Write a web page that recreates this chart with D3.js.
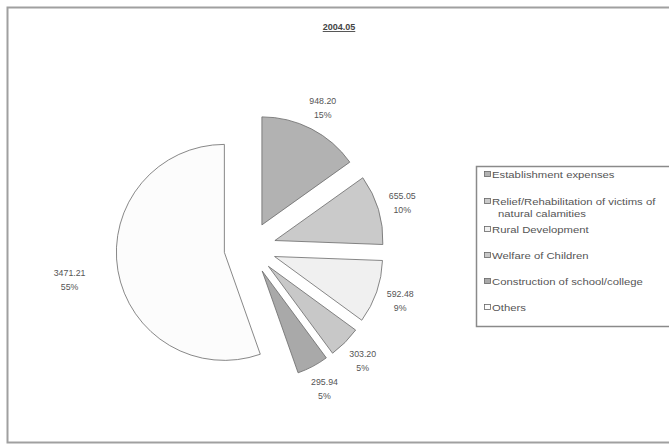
<!DOCTYPE html>
<html><head><meta charset="utf-8">
<script src="https://cdn.jsdelivr.net/npm/d3@7"></script>
<style>body{margin:0;background:#fff}svg{display:block;font-family:"Liberation Sans",Arial,sans-serif}</style>
</head><body><svg id="c" width="669" height="447"></svg>
<script>
const title = "2004.05";
const categories = ["Establishment expenses","Relief/Rehabilitation of victims of natural calamities","Rural Development","Welfare of Children","Construction of school/college","Others"];
const legendLines = [["Establishment expenses"],["Relief/Rehabilitation of victims of","natural calamities"],["Rural Development"],["Welfare of Children"],["Construction of school/college"],["Others"]];
const values = [948.20, 655.05, 592.48, 303.20, 295.94, 3471.21];
const valueLabels = ["948.20","655.05","592.48","303.20","295.94","3471.21"];
const colors = ["#b2b2b2","#cacaca","#f0f0f0","#c8c8c8","#a9a9a9","#fcfcfc"];

const svg = d3.select("#c");
svg.append("rect").attr("x",7.5).attr("y",7.5).attr("width",680).attr("height",435)
  .attr("fill","none").attr("stroke","#a0a0a0").attr("stroke-width",2);

svg.append("text").attr("x",339).attr("y",30).attr("text-anchor","middle")
  .attr("font-size",9).attr("font-weight","bold").attr("fill","#444")
  .attr("text-decoration","underline").text(title);

const cx = 250, cy = 248, r = 108, explode = 26;
const total = d3.sum(values);
const pie = d3.pie().sort(null).value(d=>d)(values);
const arc = d3.arc().innerRadius(0).outerRadius(r);
const g = svg.append("g").attr("transform",`translate(${cx},${cy})`);
pie.forEach((p,i)=>{
  const mid = (p.startAngle+p.endAngle)/2;
  const dx = explode*Math.sin(mid), dy = -explode*Math.cos(mid);
  g.append("path").attr("d",arc(p)).attr("transform",`translate(${dx},${dy})`)
    .attr("fill",colors[i]).attr("stroke","#6a6a6a").attr("stroke-width",0.8);
  const lr = r + explode + 25 + (Math.sin(mid) < 0 ? 24 : 0);
  let lx = lr*Math.sin(mid), ly = -lr*Math.cos(mid);
  const pct = Math.round(values[i]/total*100)+"%";
  const t = g.append("text").attr("text-anchor","middle").attr("font-size",8.8).attr("fill","#555");
  t.append("tspan").attr("x",lx).attr("y",ly-3).text(valueLabels[i]);
  t.append("tspan").attr("x",lx).attr("y",ly+11).text(pct);
});

// legend
svg.append("rect").attr("x",476.5).attr("y",166.5).attr("width",210).attr("height",160)
  .attr("fill","#fff").attr("stroke","#8a8a8a").attr("stroke-width",1.5);
const ly0 = [175,202,230,256,282,308];
legendLines.forEach((lines,i)=>{
  svg.append("rect").attr("x",484.5).attr("y",ly0[i]-3.5).attr("width",6).attr("height",5)
    .attr("fill",colors[i]).attr("stroke","#666").attr("stroke-width",0.8);
  lines.forEach((s,k)=>{
    const x0 = k===0?492:498;
    svg.append("text").attr("transform",`translate(${x0},${ly0[i]+3+k*11.5}) scale(1.33,1)`)
      .attr("font-size",8.5).attr("fill","#555").text(s);
  });
});
</script></body></html>
